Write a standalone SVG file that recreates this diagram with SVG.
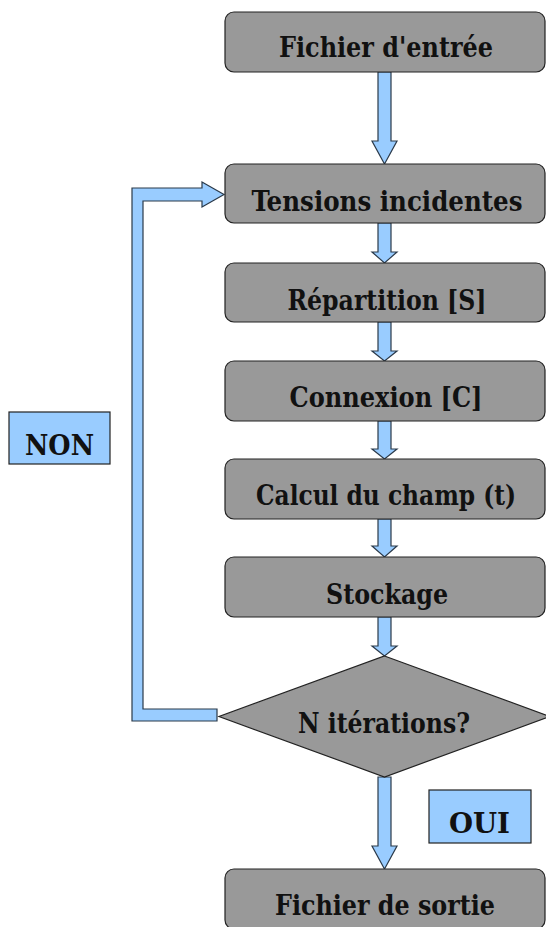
<svg xmlns="http://www.w3.org/2000/svg" width="546" height="927" viewBox="0 0 546 927">
<style>
.box{fill:#999999;stroke:#222222;stroke-width:1.2}
.arr{fill:#99ccff;stroke:#2b3a4a;stroke-width:1.2;stroke-linejoin:miter}
.lbl{fill:#99ccff;stroke:#222222;stroke-width:1.2}
text{font-family:"DejaVu Serif","Liberation Serif",serif;font-weight:bold;font-size:28px;font-stretch:condensed;fill:#111;text-anchor:middle}
</style>
<rect width="546" height="927" fill="#ffffff"/>
<g id="connectors">
<polygon class="arr" points="378,72 391,72 391,141 397,141 384.5,164 372,141 378,141"/>
<polygon class="arr" points="378,223 391,223 391,252 397,252 384.5,263 372,252 378,252"/>
<polygon class="arr" points="378,322 391,322 391,351 397,351 384.5,361 372,351 378,351"/>
<polygon class="arr" points="378,421 391,421 391,449 397,449 384.5,459 372,449 378,449"/>
<polygon class="arr" points="378,519 391,519 391,546 397,546 384.5,557 372,546 378,546"/>
<polygon class="arr" points="378,617 391,617 391,646 397,646 384.5,656 372,646 378,646"/>
<polygon class="arr" points="378,777 391,777 391,846 397,846 384.5,869 372,846 378,846"/>
<polygon class="arr" points="217,709 143,709 143,201 202,201 202,207 224,194.5 202,182 202,188 132,188 132,721 217,721"/>
</g>
<g id="n1"><rect class="box" x="225" y="12" width="320" height="60" rx="9"/><text x="386" y="57" textLength="214" lengthAdjust="spacingAndGlyphs">Fichier d'entrée</text></g>
<g id="n2"><rect class="box" x="225" y="164" width="320" height="59" rx="9"/><text x="387" y="211" textLength="271" lengthAdjust="spacingAndGlyphs">Tensions incidentes</text></g>
<g id="n3"><rect class="box" x="225" y="263" width="320" height="59" rx="9"/><text x="387" y="310" textLength="199" lengthAdjust="spacingAndGlyphs">Répartition [S]</text></g>
<g id="n4"><rect class="box" x="225" y="361" width="320" height="60" rx="9"/><text x="386" y="407" textLength="193" lengthAdjust="spacingAndGlyphs">Connexion [C]</text></g>
<g id="n5"><rect class="box" x="225" y="459" width="320" height="60" rx="9"/><text x="386" y="505" textLength="260" lengthAdjust="spacingAndGlyphs">Calcul du champ (t)</text></g>
<g id="n6"><rect class="box" x="225" y="557" width="320" height="60" rx="9"/><text x="387" y="604" textLength="122" lengthAdjust="spacingAndGlyphs">Stockage</text></g>
<g id="n7"><polygon class="box" points="384.5,656 550,716.5 384.5,777 219,716.5"/><text x="384" y="733" textLength="172" lengthAdjust="spacingAndGlyphs">N itérations?</text></g>
<g id="n8"><rect class="box" x="225" y="869" width="320" height="60" rx="9"/><text x="385" y="915" textLength="220" lengthAdjust="spacingAndGlyphs">Fichier de sortie</text></g>
<g id="non"><rect class="lbl" x="9" y="412" width="101" height="52"/><text x="59.5" y="455" textLength="69" lengthAdjust="spacingAndGlyphs">NON</text></g>
<g id="oui"><rect class="lbl" x="429" y="790" width="102" height="53"/><text x="479.5" y="833" textLength="61" lengthAdjust="spacingAndGlyphs">OUI</text></g>
</svg>
